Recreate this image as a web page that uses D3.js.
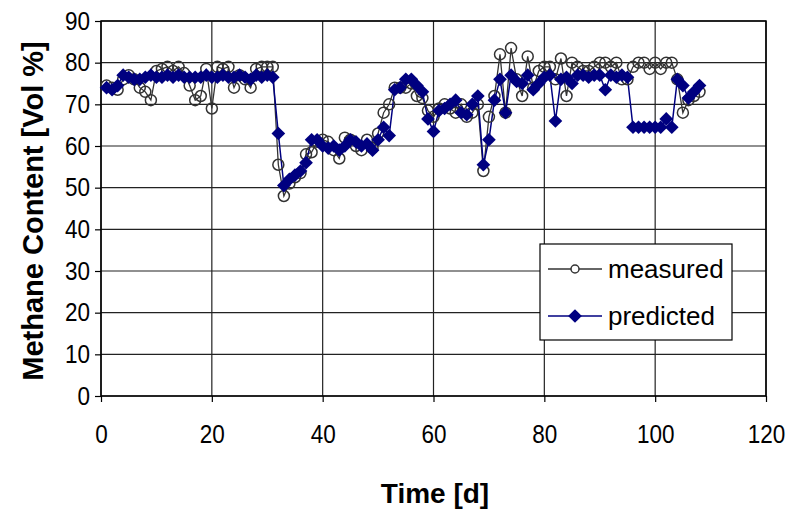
<!DOCTYPE html>
<html>
<head>
<meta charset="utf-8">
<script src="https://cdn.jsdelivr.net/npm/d3@7"></script>
<style>
  body { margin: 0; background: #fff; }
  text { font-family: "Liberation Sans", Arial, sans-serif; }
</style>
</head>
<body>
<div id="chart"></div>
<script>
var width = 792
var height = 511

// days 1..108
var days = d3.range(1, 109)

var measured = [74.5, 74, 73.5, 76, 77, 76, 74, 73, 71, 78,
  78.5, 79, 78, 79, 77.5, 74.5, 71, 72, 78.5, 69,
  79, 78.5, 79, 74, 77, 76, 74, 78.5, 79, 79,
  79, 55.5, 48, 51, 52.5, 53.5, 58, 58.5, 61, 61.5,
  61, 59, 57, 62, 61.5, 60, 59, 61.5, 59.5, 63,
  68, 70, 74, 74, 74, 75, 72, 71.5, 68.5, 67,
  69, 70, 69, 68, 70, 67, 68, 70, 54, 67,
  72, 82, 68, 83.5, 76, 72, 81.5, 74, 78, 79,
  79, 76, 81, 72, 80, 79, 78, 78, 79, 80,
  80, 79, 80, 76, 76, 79, 80, 80, 78.5, 80,
  78.5, 80, 80, 76, 68, 71, 72, 73]

var predicted = [74, 73.5, 74.5, 77, 76.5, 76, 76, 76.5, 77, 76.5,
  76.5, 77, 76.5, 77, 76.5, 76.5, 76.5, 76.5, 77, 76.5,
  76.5, 77, 76.5, 76.5, 77, 76.5, 76, 77, 76.5, 77,
  76.5, 63, 50.5, 52, 53, 54, 56, 61.5, 61.5, 60,
  59.5, 60, 59, 60, 61.5, 61, 60, 60.5, 59, 61.5,
  64.5, 62.5, 73.5, 74, 76, 76, 74.5, 73, 66.5, 63.5,
  68.5, 69, 70, 71, 68, 67.5, 70, 72, 55.5, 61.5,
  71, 76, 68, 77, 75.5, 75, 77, 73.5, 75, 76.5,
  77, 66, 76, 76.5, 75, 77, 77, 76.5, 77, 77,
  73.5, 77, 76.5, 77, 76.5, 64.5, 64.5, 64.5, 64.5, 64.5,
  64.5, 66.5, 64.5, 76, 74.5, 71.5, 73, 74.5]

var xTicks = [0, 20, 40, 60, 80, 100, 120]
var yTicks = [0, 10, 20, 30, 40, 50, 60, 70, 80, 90]

var x = d3.scaleLinear().domain([0, 120]).range([101, 766])
var y = d3.scaleLinear().domain([0, 90]).range([396, 21])

var svg = d3.select("#chart").append("svg")
  .attr("width", width).attr("height", height)

// grid
svg.append("g").selectAll("line")
  .data(yTicks).enter().append("line")
  .attr("x1", x(0)).attr("x2", x(120))
  .attr("y1", function(d) { return y(d) }).attr("y2", function(d) { return y(d) })
  .attr("stroke", "#222").attr("stroke-width", 1.2)
svg.append("g").selectAll("line")
  .data(xTicks).enter().append("line")
  .attr("y1", y(0)).attr("y2", y(90))
  .attr("x1", function(d) { return x(d) }).attr("x2", function(d) { return x(d) })
  .attr("stroke", "#222").attr("stroke-width", 1.2)

svg.append("rect")
  .attr("x", x(0)).attr("y", y(90))
  .attr("width", x(120) - x(0)).attr("height", y(0) - y(90))
  .attr("fill", "none").attr("stroke", "#000").attr("stroke-width", 1.5)

// axes
var xAxis = d3.axisBottom(x).tickValues(xTicks).tickSize(6).tickPadding(23)
var yAxis = d3.axisLeft(y).tickValues(yTicks).tickSize(6).tickPadding(5)

var gx = svg.append("g").attr("transform", "translate(0," + y(0) + ")").call(xAxis)
var gy = svg.append("g").attr("transform", "translate(" + x(0) + ",0)").call(yAxis)
;[gx, gy].forEach(function(g) {
  g.select(".domain").remove()
  g.selectAll("line").attr("stroke", "#000").attr("stroke-width", 1.2)
  g.selectAll("text")
    .style("font-family", "'Liberation Sans', Arial, sans-serif")
    .style("font-size", "25px").attr("fill", "#000")
    .attr("transform", "scale(0.9,1)")
})
// keep y labels right edge after narrowing
gy.selectAll("text").attr("x", -11 / 0.9)

// lines
var lineM = d3.line()
  .x(function(d, i) { return x(days[i]) })
  .y(function(d) { return y(d) })

svg.append("path").datum(measured)
  .attr("d", lineM).attr("fill", "none")
  .attr("stroke", "#333").attr("stroke-width", 1.3)

svg.append("path").datum(predicted)
  .attr("d", lineM).attr("fill", "none")
  .attr("stroke", "#000080").attr("stroke-width", 1.5)

svg.append("g").selectAll("circle")
  .data(measured).enter().append("circle")
  .attr("cx", function(d, i) { return x(days[i]) })
  .attr("cy", function(d) { return y(d) })
  .attr("r", 5.5)
  .attr("fill", "none").attr("stroke", "#333").attr("stroke-width", 1.5)

var diamond = d3.symbol().type(d3.symbolDiamond2).size(120)
svg.append("g").selectAll("path")
  .data(predicted).enter().append("path")
  .attr("d", diamond)
  .attr("transform", function(d, i) { return "translate(" + x(days[i]) + "," + y(d) + ")" })
  .attr("fill", "#000080")

// axis titles
svg.append("text")
  .attr("x", 435).attr("y", 503)
  .attr("text-anchor", "middle")
  .style("font-size", "28px").style("font-weight", "bold")
  .text("Time [d]")

svg.append("text")
  .attr("transform", "translate(43,211) rotate(-90)")
  .attr("text-anchor", "middle")
  .style("font-size", "29px").style("font-weight", "bold")
  .text("Methane Content [Vol %]")

// legend
var legend = svg.append("g").attr("transform", "translate(540,244)")
legend.append("rect")
  .attr("width", 192).attr("height", 96)
  .attr("fill", "#fff").attr("stroke", "#000").attr("stroke-width", 1.2)

legend.append("line").attr("x1", 8).attr("x2", 62).attr("y1", 25).attr("y2", 25)
  .attr("stroke", "#333").attr("stroke-width", 1.3)
legend.append("circle").attr("cx", 35).attr("cy", 25).attr("r", 4)
  .attr("fill", "#fff").attr("stroke", "#333").attr("stroke-width", 1.5)
legend.append("text").attr("x", 68).attr("y", 34)
  .style("font-size", "26px").text("measured")

legend.append("line").attr("x1", 8).attr("x2", 62).attr("y1", 72).attr("y2", 72)
  .attr("stroke", "#000080").attr("stroke-width", 1.5)
legend.append("path").attr("d", diamond)
  .attr("transform", "translate(35,72)").attr("fill", "#000080")
legend.append("text").attr("x", 68).attr("y", 81)
  .style("font-size", "26px").text("predicted")
</script>
</body>
</html>
